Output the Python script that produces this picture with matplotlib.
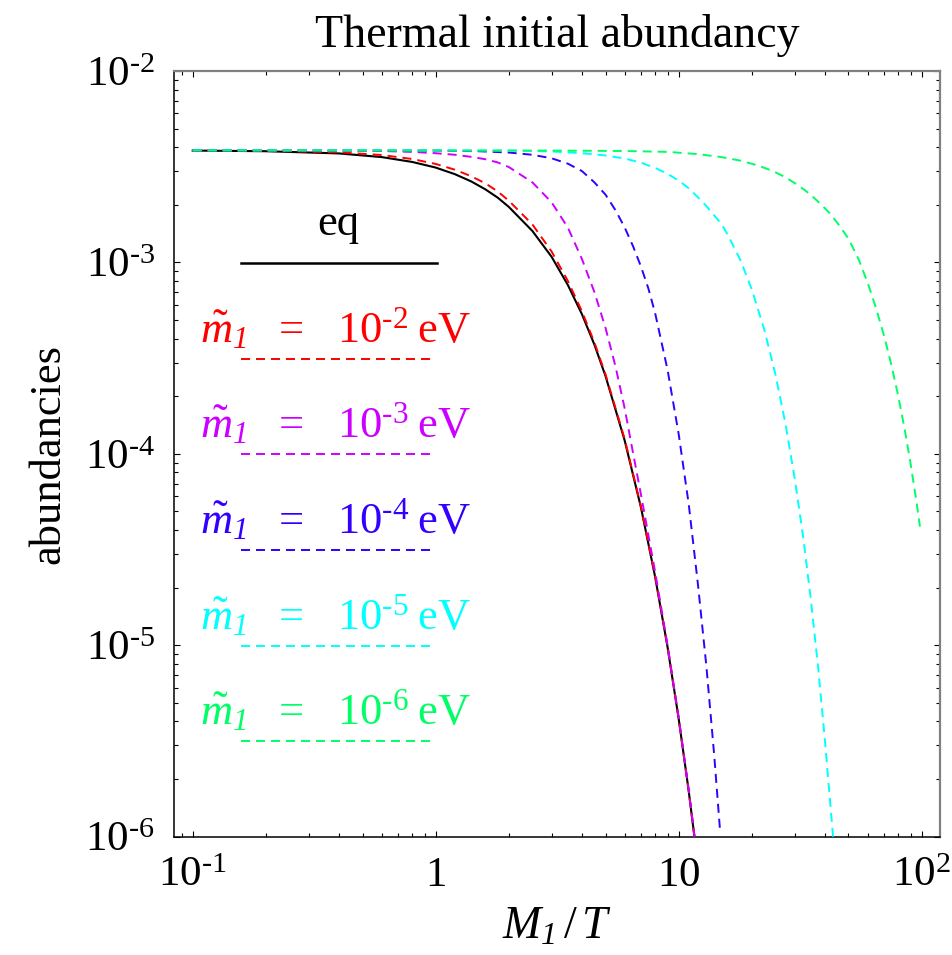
import matplotlib
matplotlib.use("Agg")
import matplotlib.pyplot as plt
from matplotlib.ticker import LogLocator, NullFormatter, FixedLocator, FixedFormatter

plt.rcParams['font.family'] = ['Liberation Serif', 'DejaVu Serif']
plt.rcParams['mathtext.fontset'] = 'custom'
plt.rcParams['mathtext.rm'] = 'Liberation Serif'
plt.rcParams['mathtext.it'] = 'Liberation Serif:italic'
plt.rcParams['mathtext.bf'] = 'Liberation Serif:bold'
# italic digits for the subscripts
plt.rcParams['mathtext.cal'] = 'Liberation Serif:italic'
plt.rcParams['mathtext.fallback'] = 'stix'
plt.rcParams['lines.scale_dashes'] = False

HY = '\u2010'  # short hyphen used in the exponents

# Equilibrium abundance
z_eq = [0.1, 0.2, 0.4, 0.6, 0.8, 1.0, 1.2, 1.4, 1.6, 1.8, 2.0, 2.5, 3.0, 3.5, 4.0, 4.5,
        5.0, 6.0, 7.0, 8.0, 9.0, 10.0, 11.0, 12.0]
n_eq = [3.84e-3, 3.81e-3, 3.71e-3, 3.55e-3, 3.35e-3, 3.13e-3, 2.89e-3, 2.65e-3, 2.41e-3,
        2.18e-3, 1.95e-3, 1.46e-3, 1.07e-3, 7.62e-4, 5.36e-4, 3.72e-4, 2.55e-4, 1.17e-4,
        5.23e-5, 2.28e-5, 9.79e-6, 4.14e-6, 1.73e-6, 7.15e-7]

# Thermal initial abundance, m1 = 1e-2 eV
z_r = [0.1, 0.2, 0.4, 0.6, 0.8, 1.0, 1.2, 1.4, 1.6, 1.8, 2.0, 2.5, 3.0, 3.5, 4.0, 4.5,
       5.0, 6.0, 7.0, 8.0, 9.0, 10.0, 11.0, 12.0]
n_r = [3.85e-3, 3.83e-3, 3.76e-3, 3.64e-3, 3.47e-3, 3.27e-3, 3.05e-3, 2.82e-3, 2.59e-3,
       2.35e-3, 2.10e-3, 1.58e-3, 1.14e-3, 8.0e-4, 5.55e-4, 3.82e-4, 2.60e-4, 1.19e-4,
       5.28e-5, 2.30e-5, 9.85e-6, 4.16e-6, 1.74e-6, 7.2e-7]

# m1 = 1e-3 eV
z_m = [0.1, 0.2, 0.4, 0.6, 0.8, 1.0, 1.2, 1.4, 1.6, 1.8, 2.0, 2.5, 3.0, 3.5, 4.0, 4.5,
       5.0, 5.5, 6.0, 6.5, 7.0, 8.0, 9.0, 10.0, 11.0, 12.0]
n_m = [3.85e-3, 3.85e-3, 3.84e-3, 3.82e-3, 3.78e-3, 3.72e-3, 3.65e-3, 3.56e-3, 3.46e-3,
       3.33e-3, 3.15e-3, 2.62e-3, 2.06e-3, 1.52e-3, 1.04e-3, 7.0e-4, 4.55e-4, 2.85e-4,
       1.72e-4, 1.0e-4, 6.1e-5, 2.42e-5, 1.0e-5, 4.2e-6, 1.75e-6, 7.2e-7]

# m1 = 1e-4 eV
z_b = [0.1, 1.0, 1.5, 2.0, 2.5, 3.0, 3.5, 4.0, 4.5, 5.0, 5.5, 6.0, 6.5, 7.0, 7.5, 8.0,
       9.0, 10.0, 11.0, 12.0, 13.0, 14.0, 14.8]
n_b = [3.85e-3, 3.84e-3, 3.81e-3, 3.75e-3, 3.65e-3, 3.50e-3, 3.28e-3, 3.0e-3, 2.62e-3,
       2.26e-3, 1.87e-3, 1.52e-3, 1.21e-3, 9.5e-4, 7.33e-4, 5.44e-4, 2.75e-4, 1.27e-4,
       5.46e-5, 2.09e-5, 7.8e-6, 2.68e-6, 1.08e-6]

# m1 = 1e-5 eV
z_c = [0.1, 1.0, 2.0, 3.0, 4.0, 5.0, 6.0, 7.0, 8.0, 9.0, 10.0, 11.0, 12.0, 13.0, 14.0,
       15.0, 16.0, 18.0, 20.0, 22.5, 25.0, 27.5, 30.0, 32.5, 35.0, 37.5, 40.0, 42.0, 43.2]
n_c = [3.85e-3, 3.85e-3, 3.84e-3, 3.80e-3, 3.72e-3, 3.62e-3, 3.49e-3, 3.32e-3, 3.12e-3,
       2.90e-3, 2.68e-3, 2.44e-3, 2.19e-3, 1.97e-3, 1.76e-3, 1.59e-3, 1.38e-3, 1.02e-3,
       7.22e-4, 4.47e-4, 2.61e-4, 1.44e-4, 7.5e-5, 3.72e-5, 1.73e-5, 7.66e-6, 3.17e-6,
       1.52e-6, 1.0e-6]

# m1 = 1e-6 eV
z_g = [0.1, 3.0, 6.0, 9.0, 12.0, 15.0, 18.0, 21.0, 24.0, 27.0, 30.0, 33.0, 36.0, 39.0,
       42.0, 46.0, 50.0, 55.0, 60.0, 65.0, 70.0, 75.0, 80.0, 85.0, 90.0, 95.0, 98.4]
n_g = [3.85e-3, 3.84e-3, 3.82e-3, 3.78e-3, 3.68e-3, 3.55e-3, 3.40e-3, 3.22e-3, 3.03e-3,
       2.82e-3, 2.60e-3, 2.39e-3, 2.18e-3, 1.98e-3, 1.80e-3, 1.55e-3, 1.33e-3, 1.04e-3,
       7.8e-4, 5.74e-4, 4.15e-4, 2.93e-4, 2.02e-4, 1.36e-4, 8.93e-5, 5.73e-5, 4.17e-5]

series_z = [z_r, z_m, z_b, z_c, z_g]
series_n = [n_r, n_m, n_b, n_c, n_g]
colors = ['#FF0000', '#CC00FF', '#3300FF', '#00FFFF', '#00FF66']
exponents = ['2', '3', '4', '5', '6']

x_ticks = [0.1, 1, 10, 100]
x_ticklabels = [r'$10^{' + HY + '1}$', r'$1$', r'$10$', r'$10^{2}$']
y_ticks = [1e-6, 1e-5, 1e-4, 1e-3, 1e-2]
y_ticklabels = [r'$10^{' + HY + e + '}$' for e in ['6', '5', '4', '3', '2']]

W, H = 953, 955
fig = plt.figure(figsize=(W / 100, H / 100), dpi=100)
ax = fig.add_axes([174.3 / W, 1 - 836.7 / H, (940 - 174.3) / W, (836.7 - 71) / H])

dash = (6.5, 4.3)
ax.plot(z_eq, n_eq, color='black', lw=1.5, zorder=3)
for zs, ns, c in zip(series_z, series_n, colors):
    ax.plot(zs, ns, color=c, lw=1.4, dashes=dash, zorder=4)

ax.set_xscale('log')
ax.set_yscale('log')
ax.set_xlim(0.084, 119)
ax.set_ylim(1e-6, 1.0e-2)

ax.xaxis.set_major_locator(FixedLocator(x_ticks))
ax.xaxis.set_major_formatter(FixedFormatter(x_ticklabels))
ax.yaxis.set_major_locator(FixedLocator(y_ticks))
ax.yaxis.set_major_formatter(FixedFormatter(y_ticklabels))
ax.xaxis.set_minor_locator(LogLocator(base=10, subs=range(2, 10), numticks=20))
ax.yaxis.set_minor_locator(LogLocator(base=10, subs=range(2, 10), numticks=20))
ax.xaxis.set_minor_formatter(NullFormatter())
ax.yaxis.set_minor_formatter(NullFormatter())
ax.tick_params(which='both', direction='in', top=True, right=True, width=0.8, colors='black')
ax.tick_params(which='major', length=4.5, labelsize=31)
ax.tick_params(which='minor', length=3.2)
ax.tick_params(axis='x', pad=14)
ax.tick_params(axis='y', pad=14)

for side in ['left', 'bottom']:
    ax.spines[side].set_color('black')
    ax.spines[side].set_linewidth(1.1)
for side in ['top', 'right']:
    ax.spines[side].set_color('#808080')
    ax.spines[side].set_linewidth(1.6)

ax.set_title('Thermal initial abundancy', fontsize=33, pad=17)
ax.set_xlabel(r'$M_{\mathcal{1}}\,/\,T$', fontsize=33, labelpad=8)
ax.set_ylabel('abundancies', fontsize=32, labelpad=12)

# Legend drawn inside the axes
def ax_frac(px, py):
    return (px - 174.3) / (940 - 174.3), (836.7 - py) / (836.7 - 71)

x0, y0 = ax_frac(241, 263)
x1, _ = ax_frac(437, 263)
ax.plot([x0, x1], [y0, y0], color='black', lw=1.8, transform=ax.transAxes, clip_on=False)
tx, ty = ax_frac(338, 235)
ax.text(tx, ty, 'eq', fontsize=32, ha='center', va='baseline', transform=ax.transAxes)

line_y = [359, 454, 550, 646, 741]
for ly, c, e in zip(line_y, colors, exponents):
    lx0, lyf = ax_frac(241, ly)
    lx1, _ = ax_frac(433, ly)
    ax.plot([lx0, lx1], [lyf, lyf], color=c, lw=1.4, dashes=dash,
            transform=ax.transAxes, clip_on=False)
    tx, ty = ax_frac(200, ly - 17)
    ax.text(tx, ty, r'$\tilde{m}_{\mathcal{1}}\;\;\,=\;\;\;10^{' + HY + e + r'}\;\mathrm{eV}$',
            color=c, fontsize=32, ha='left', va='baseline', transform=ax.transAxes)

fig.savefig('out.png', dpi=100)
